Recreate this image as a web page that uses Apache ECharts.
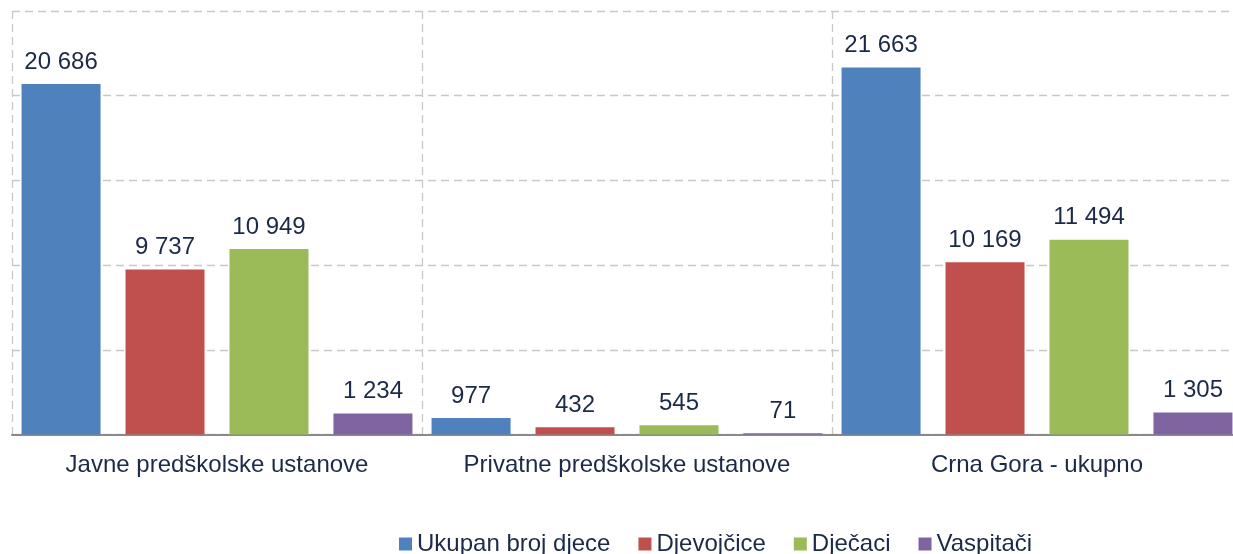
<!DOCTYPE html>
<html><head><meta charset="utf-8">
<script src="https://cdn.jsdelivr.net/npm/echarts@6/dist/echarts.min.js"></script>
<style>html,body{margin:0;padding:0;background:#fff;overflow:hidden}#c{width:1242px;height:554px}</style>
</head><body><div id="c"></div>
<script>
const categories = ['Javne predškolske ustanove', 'Privatne predškolske ustanove', 'Crna Gora - ukupno'];
const seriesNames = ['Ukupan broj djece', 'Djevojčice', 'Dječaci', 'Vaspitači'];
const ukupan = [20686, 977, 21663];
const djevojcice = [9737, 432, 10169];
const djecaci = [10949, 545, 11494];
const vaspitaci = [1234, 71, 1305];
const colors = ['#4f81bd', '#c0504d', '#9bbb59', '#8064a2'];
const textColor = '#1b2a47';
const font = 'Liberation Sans, Arial, sans-serif';
const fmt = v => String(v).replace(/\B(?=(\d{3})+(?!\d))/g, ' ');
const values = [ukupan, djevojcice, djecaci, vaspitaci];
const chart = echarts.init(document.getElementById('c'));
chart.setOption({
  animation: false,
  grid: { left: 12, right: 0, top: 11, bottom: 119.5, containLabel: false },
  legend: {
    left: 394, top: 527, itemWidth: 13, itemHeight: 13, itemGap: 28,
    icon: 'rect',
    textStyle: { fontFamily: font, fontSize: 24, color: textColor },
    data: seriesNames
  },
  xAxis: {
    type: 'category', data: categories,
    axisLine: { lineStyle: { color: '#8a8a8a', width: 2 } },
    axisTick: { show: false },
    axisLabel: { interval: 0, fontFamily: font, fontSize: 24, color: textColor, margin: 19 },
    splitLine: { show: true, interval: 0, lineStyle: { color: '#c8c8c8', type: [8, 5], width: 1.3 } }
  },
  yAxis: {
    type: 'value', min: 0, max: 25000, interval: 5000,
    axisLabel: { show: false }, axisLine: { show: false }, axisTick: { show: false },
    splitLine: { lineStyle: { color: '#c8c8c8', type: [8, 5], width: 1.3 } }
  },
  series: seriesNames.map((n, i) => ({
    name: n, type: 'bar', data: values[i], barWidth: 79, barGap: '31.6%',
    itemStyle: { color: colors[i] },
    label: { show: true, position: 'top', distance: 10, fontFamily: font, fontSize: 24, color: textColor,
      formatter: p => fmt(p.value) }
  }))
});
</script></body></html>
